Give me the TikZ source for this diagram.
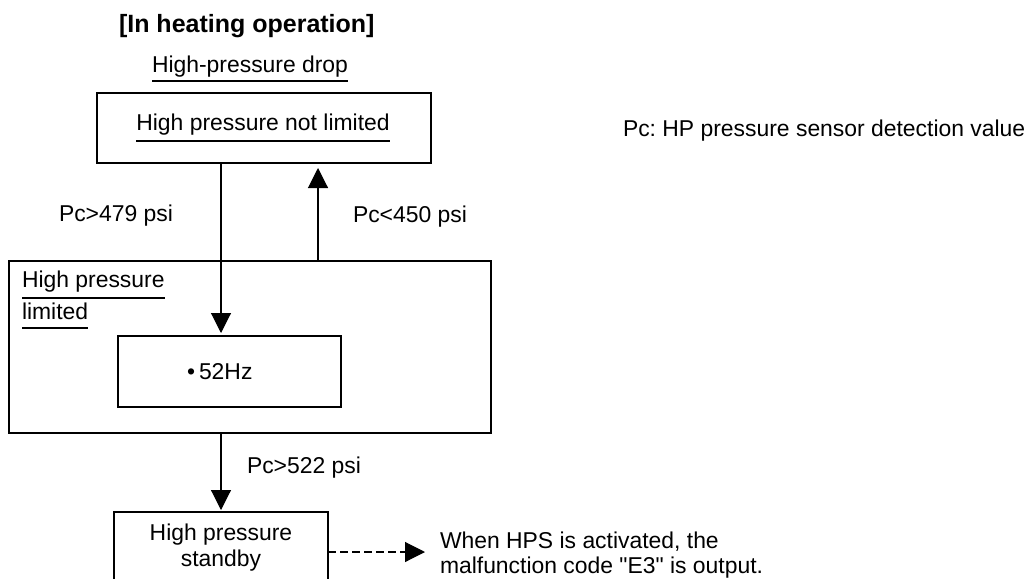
\documentclass[tikz,border=0pt]{standalone}
\usepackage{fontspec}
\setmainfont{Liberation Sans}
\usetikzlibrary{arrows.meta}
\frenchspacing
\begin{document}
\begin{tikzpicture}[x=1pt,y=-1pt,
  box/.style={draw, line width=1.1pt, inner sep=0pt, outer sep=0pt},
  txt/.style={font=\fontsize{22.9}{26}\selectfont, inner sep=0pt, outer sep=0pt, anchor=base west},
  ctxt/.style={txt, anchor=base},
  uline/.style={line width=1.3pt},
  arr/.style={line width=1.1pt, -{Triangle[length=20pt,width=20pt]}},
  darr/.style={arr, dash pattern=on 8pt off 4pt}]
\useasboundingbox (0,0) rectangle (1030,578);
\clip (0,0) rectangle (1030,578);
\fill[white] (0,0) rectangle (1030,578);

% title
\node[txt, font=\fontsize{25}{30}\selectfont\bfseries] (title) at (119,33) {[In heating operation]};

% high-pressure drop heading
\node[txt] (drop) at (152,72) {High-pressure drop};
\draw[uline] ([yshift=-9pt]drop.base west) -- ([yshift=-9pt]drop.base east);

% box 1
\node[box, minimum width=334pt, minimum height=70pt] (b1) at (264,128) {};
\node[ctxt] (t1) at (263,130) {High pressure not limited};
\draw[uline] ([yshift=-11pt]t1.base west) -- ([yshift=-11pt]t1.base east);

% legend
\node[txt] (legend) at (623,136) {Pc: HP pressure sensor detection value};

% transition labels
\node[txt] (l479) at (59,221) {Pc>479 psi};
\node[txt] (l450) at (353,222) {Pc<450 psi};

% big box
\node[box, minimum width=482pt, minimum height=172pt] (big) at (250,347) {};
\node[txt] (hp1) at (22,287) {High pressure};
\draw[uline] ([yshift=-11pt]hp1.base west) -- ([yshift=-11pt]hp1.base east);
\node[txt] (hp2) at (22,319) {limited};
\draw[uline] ([yshift=-9pt]hp2.base west) -- ([yshift=-9pt]hp2.base east);

% 52Hz box
\node[box, minimum width=223pt, minimum height=71pt] (hz) at (229.5,371.5) {};
\node[txt] (hzt) at (187,379) {\textbullet\kern4pt 52Hz};

% label 522
\node[txt] (l522) at (247,473) {Pc>522 psi};

% bottom box
\node[box, minimum width=214pt, minimum height=120pt] (bot) at (221,572) {};
\node[ctxt] (bot1) at (221,540) {High pressure};
\node[ctxt] (bot2) at (221,566) {standby};

% note
\node[txt] (n1) at (440,548) {When HPS is activated, the};
\node[txt] (n2) at (440,573) {malfunction code \textquotedbl E3\textquotedbl{} is output.};
\coordinate (dend) at (425,552);

% connectors
\draw[arr, shorten >=3pt] ([xshift=-43pt]b1.south) -- ([xshift=-8.5pt]hz.north);
\draw[arr, shorten >=5pt] ([xshift=68pt]big.north) -- ([xshift=54pt]b1.south);
\draw[arr, shorten >=2pt] ([xshift=-29pt]big.south) -- (bot.north);
\draw[darr] ([yshift=20pt]bot.east) -- (dend);
\end{tikzpicture}
\end{document}
